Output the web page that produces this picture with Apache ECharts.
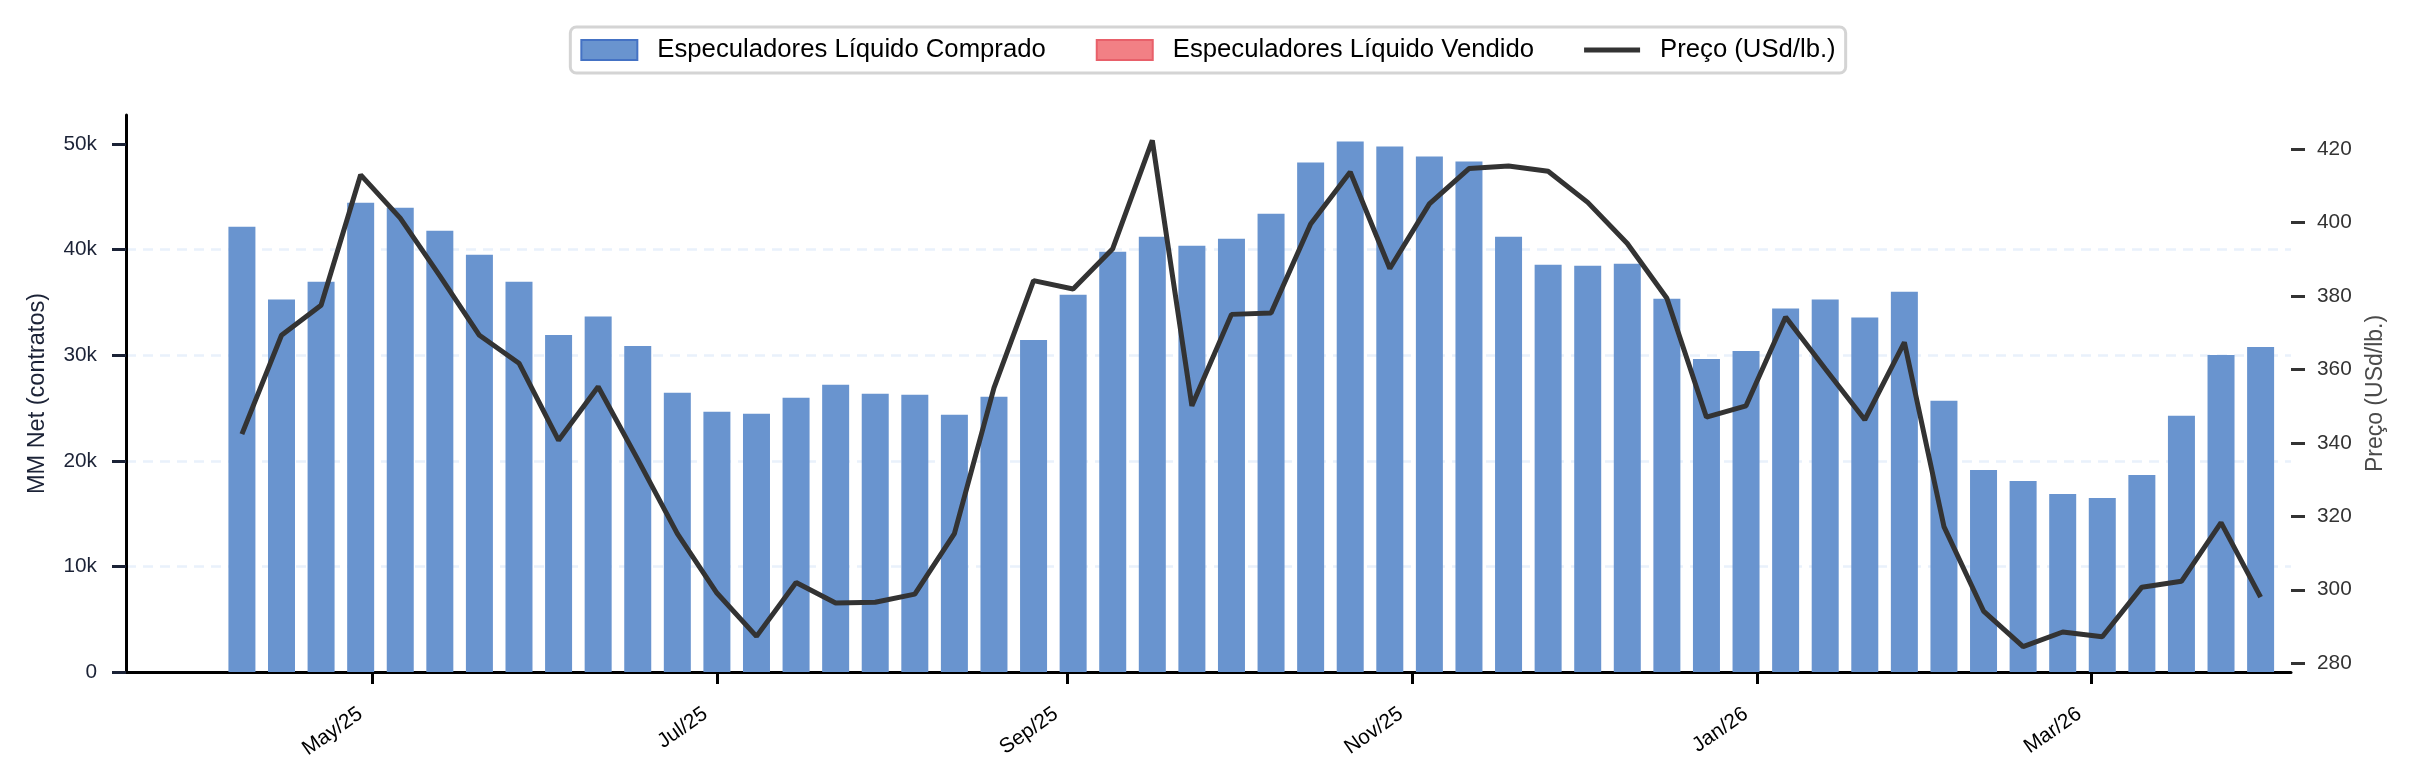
<!DOCTYPE html>
<html>
<head>
<meta charset="utf-8">
<script src="https://cdn.jsdelivr.net/npm/echarts@6/dist/echarts.min.js"></script>
<style>
  html, body { margin: 0; padding: 0; background: #fff; }
  #main { width: 2416px; height: 781px; }
</style>
</head>
<body>
<div id="main"></div>
<script>
// semanas do relatório COT (terças-feiras)
var weeks = [
    '2025-04-08', '2025-04-15', '2025-04-22', '2025-04-29',
    '2025-05-06', '2025-05-13', '2025-05-20', '2025-05-27',
    '2025-06-03', '2025-06-10', '2025-06-17', '2025-06-24',
    '2025-07-01', '2025-07-08', '2025-07-15', '2025-07-22', '2025-07-29',
    '2025-08-05', '2025-08-12', '2025-08-19', '2025-08-26',
    '2025-09-02', '2025-09-09', '2025-09-16', '2025-09-23', '2025-09-30',
    '2025-10-07', '2025-10-14', '2025-10-21', '2025-10-28',
    '2025-11-04', '2025-11-11', '2025-11-18', '2025-11-25',
    '2025-12-02', '2025-12-09', '2025-12-16', '2025-12-23', '2025-12-30',
    '2026-01-06', '2026-01-13', '2026-01-20', '2026-01-27',
    '2026-02-03', '2026-02-10', '2026-02-17', '2026-02-24',
    '2026-03-03', '2026-03-10', '2026-03-17', '2026-03-24', '2026-03-31'
];

// MM net (contratos) - só semanas compradas
var netLong = [
    42160, 35270, 36970, 44430, 43960, 41780, 39520, 36970,
    31920, 33660, 30880, 26440, 24650, 24460, 25970, 27200, 26350,
    26250, 24360, 26060, 31440, 35740, 39800, 41220, 40370, 41030,
    43390, 48250, 50240, 49760, 48820, 48350, 41220, 38570,
    38480, 38670, 35360, 29650, 30410, 34420, 35270, 33570, 36020,
    25680, 19120, 18080, 16860, 16480, 18650, 24270, 30030, 30780
];
var netShort = []; // nenhuma semana vendida no período

// preço (USd/lb.)
var price = [
    342.4, 369.3, 377.5, 413.0, 401.2, 385.5, 369.3, 361.7,
    340.7, 355.3, 335.5, 315.3, 299.1, 287.3, 302.0, 296.4, 296.6,
    298.8, 315.3, 355.0, 384.2, 381.9, 392.9, 422.4, 350.1, 375.0,
    375.4, 399.6, 413.8, 387.5, 405.1, 414.7, 415.4, 414.0,
    405.5, 394.3, 379.4, 347.0, 350.1, 374.3, 360.2, 346.3, 367.4,
    317.2, 294.2, 284.5, 288.5, 287.2, 300.7, 302.3, 318.3, 298.0
];

var tickDates = ['2025-05-01', '2025-07-01', '2025-09-01', '2025-11-01', '2026-01-01', '2026-03-01'];
var tickLabels = ['May/25', 'Jul/25', 'Sep/25', 'Nov/25', 'Jan/26', 'Mar/26'];
var leftTicks = [0, 10000, 20000, 30000, 40000, 50000];
var rightTicks = [280, 300, 320, 340, 360, 380, 400, 420];

var longName = 'Especuladores Líquido Comprado';
var shortName = 'Especuladores Líquido Vendido';
var priceName = 'Preço (USd/lb.)';

var parse = function (s) { return +echarts.time.parse(s); };
var tickTimes = tickDates.map(parse);

var longData = [];
var priceData = [];
for (var i = 0; i < weeks.length; i++) {
    longData.push([parse(weeks[i]), netLong[i]]);
    priceData.push([parse(weeks[i]), price[i]]);
}
var shortData = netShort.map(function (v, i) { return [parse(weeks[i]), v]; });

var navy = '#1b2236';
var font = 'Liberation Sans, Arial, sans-serif';

var myChart = echarts.init(document.getElementById('main'));
var option = {
    backgroundColor: '#fff',
    animation: false,
    textStyle: { fontFamily: font },
    legend: {
        top: 27,
        left: 'center',
        padding: [10, 10],
        itemGap: 50,
        itemWidth: 56,
        itemHeight: 20,
        backgroundColor: '#fff',
        borderColor: '#d4d4d4',
        borderWidth: 3,
        borderRadius: 6,
        textStyle: { fontSize: 25.7, color: '#000', fontFamily: font, lineHeight: 26, padding: [0, 0, 0, 15] },
        data: [
            { name: longName, icon: 'rect', itemStyle: { color: '#6994cf', borderColor: '#4472c4', borderWidth: 2 } },
            { name: shortName, icon: 'rect', itemStyle: { color: '#f28085', borderColor: '#e8606a', borderWidth: 2 } },
            { name: priceName, icon: 'path://M0 0H56V5H0Z', itemStyle: { color: '#333', borderWidth: 0 } }
        ]
    },
    grid: { left: 126, right: 125, top: 115, bottom: 109 },
    xAxis: {
        type: 'value',
        min: parse('2025-03-18 12:00'),
        max: parse('2026-04-05 09:00'),
        axisLine: { onZero: false, lineStyle: { color: '#000', width: 3 } },
        axisTick: { show: true, length: 12, lineStyle: { color: '#000', width: 3 }, customValues: tickTimes },
        axisLabel: {
            customValues: tickTimes,
            rotate: 35,
            margin: 32,
            padding: [0, 14, 0, 0],
            fontSize: 20.8,
            color: '#000',
            fontFamily: font,
            formatter: function (v) {
                var k = tickTimes.indexOf(v);
                return k >= 0 ? tickLabels[k] : '';
            }
        },
        splitLine: { show: false }
    },
    yAxis: [
        {
            type: 'value',
            min: 0,
            max: 52752,
            name: 'MM Net (contratos)',
            nameLocation: 'middle',
            nameGap: 76,
            nameTextStyle: { fontSize: 23.5, color: navy, fontFamily: font },
            axisLine: { show: true, lineStyle: { color: '#000', width: 3 } },
            axisTick: { show: true, length: 14, lineStyle: { color: navy, width: 3 }, customValues: leftTicks },
            axisLabel: {
                customValues: leftTicks,
                margin: 29,
                fontSize: 20.8,
                color: navy,
                fontFamily: font,
                formatter: function (v) { return v === 0 ? '0' : (v / 1000) + 'k'; }
            },
            splitLine: { show: true, showMaxLine: false, lineStyle: { color: '#e9f1fb', width: 2.5, type: [10, 7] } }
        },
        {
            type: 'value',
            position: 'right',
            min: 277.6,
            max: 429.3,
            name: priceName,
            nameLocation: 'middle',
            nameGap: 73,
            nameTextStyle: { fontSize: 23, color: '#4a4a4a', fontFamily: font },
            axisLine: { show: false },
            axisTick: { show: true, length: 14, lineStyle: { color: '#333', width: 3 }, customValues: rightTicks },
            axisLabel: {
                customValues: rightTicks,
                margin: 26,
                fontSize: 20.8,
                color: '#333',
                fontFamily: font
            },
            splitLine: { show: false }
        }
    ],
    series: [
        {
            name: longName,
            type: 'bar',
            stack: 'net',
            barWidth: 27,
            itemStyle: { color: '#6994cf' },
            data: longData
        },
        {
            name: shortName,
            type: 'bar',
            stack: 'net',
            barWidth: 27,
            itemStyle: { color: '#f28085' },
            data: shortData
        },
        {
            name: priceName,
            type: 'line',
            yAxisIndex: 1,
            symbol: 'none',
            z: 5,
            lineStyle: { color: '#333', width: 5 },
            itemStyle: { color: '#333' },
            data: priceData
        }
    ]
};
myChart.setOption(option);
</script>
</body>
</html>
